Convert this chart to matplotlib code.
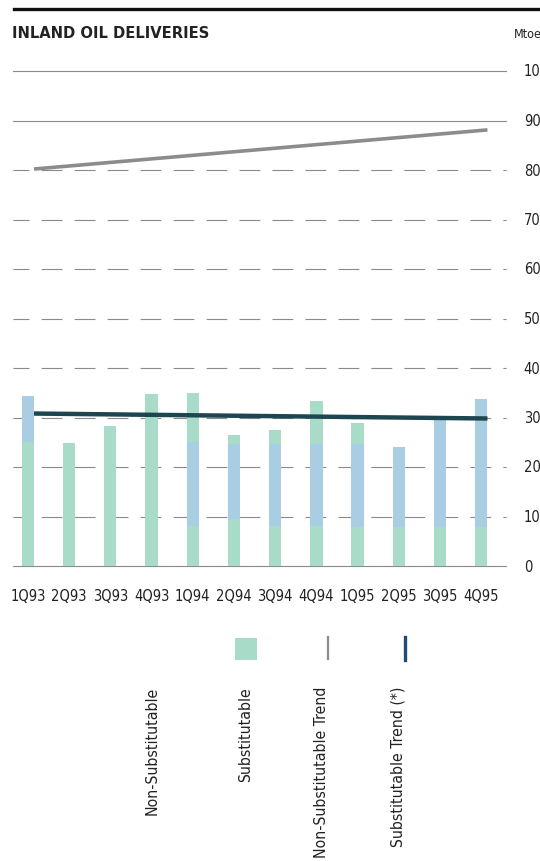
import matplotlib
matplotlib.use("Agg")
import matplotlib.pyplot as plt
from matplotlib.patches import Rectangle
from matplotlib.lines import Line2D
from matplotlib import font_manager
import numpy as np

# ---------------- data ----------------
quarters = ['1Q93', '2Q93', '3Q93', '4Q93', '1Q94', '2Q94',
            '3Q94', '4Q94', '1Q95', '2Q95', '3Q95', '4Q95']
green_low = [25.0, 24.8, 28.2, 34.7, 8.1, 9.5, 8.1, 8.1, 7.9, 7.8, 7.8, 7.8]
blue_mid = [9.3, 0.0, 0.0, 0.0, 16.9, 15.1, 16.5, 16.5, 16.7, 16.2, 21.6, 25.9]
green_top = [0.0, 0.0, 0.0, 0.0, 9.9, 1.9, 2.9, 8.8, 4.2, 0.0, 0.0, 0.0]
nonsub_trend = [80.2, 88.1]   # start / end value
sub_trend = [30.8, 29.8]      # start / end value
y_ticks = [0, 10, 20, 30, 40, 50, 60, 70, 80, 90, 100]
legend_labels = ['Non-Substitutable', 'Substitutable',
                 'Non-Substitutable Trend', 'Substitutable Trend (*)']
title = 'INLAND OIL DELIVERIES'
unit = 'Mtoe'

# ---------------- style ----------------
GREEN = '#a9dcc8'
BLUE = '#a9cee3'
GRAY_TREND = '#8c8c8c'
DARK_TREND = '#1d4650'
GRID = '#8a8a8a'

# find a condensed face if one exists
cond_path = None
for f in font_manager.findSystemFonts():
    base = f.split('/')[-1].lower()
    if base in ('dejavusanscondensed.ttf', 'liberationsansnarrow-regular.ttf'):
        cond_path = f
        break
if cond_path:
    font_manager.fontManager.addfont(cond_path)
    cond_name = font_manager.FontProperties(fname=cond_path).get_name()
    NARROW = dict(family=cond_name, stretch='condensed')
    SCALE = 1.0
else:
    NARROW = dict(family='DejaVu Sans')
    SCALE = 0.85

W, H = 540, 862
fig = plt.figure(figsize=(W / 100, H / 100), dpi=100)
fig.patch.set_facecolor('white')

# axes pixel box: x 13..506, y(0)=567, y(100)=72
left, right = 13, 506
y0, y100 = 567, 72
ax = fig.add_axes([left / W, (H - y0) / H, (right - left) / W, (y0 - y100) / H])
ax.set_facecolor('none')

n = len(quarters)
x = np.arange(n)
bw = 0.30
ax.set_xlim(-0.36, 11.6)
ax.set_ylim(0, 100)

# gridlines
spacing_px = (right - left) / (11.6 + 0.36)
pt = 0.72
on = 26 * pt
off = spacing_px * pt - on
for v in y_ticks:
    if v in (0, 90, 100):
        ax.axhline(v, color=GRID, lw=0.8, zorder=1, clip_on=False)
    else:
        ax.axhline(v, color=GRID, lw=0.8, zorder=1,
                   linestyle=(6 * pt, (on, off)), clip_on=False)

# bars
g1 = np.array(green_low)
b1 = np.array(blue_mid)
g2 = np.array(green_top)
ax.bar(x, g1, width=bw, color=GREEN, zorder=2, linewidth=0)
ax.bar(x, b1, width=bw, bottom=g1, color=BLUE, zorder=2, linewidth=0)
ax.bar(x, g2, width=bw, bottom=g1 + b1, color=GREEN, zorder=2, linewidth=0)

# trend lines
tx = [x[0] + bw / 2, x[-1] + bw / 2]
ax.plot(tx, nonsub_trend, color=GRAY_TREND, lw=2.6, zorder=3, solid_capstyle='butt')
ax.plot(tx, sub_trend, color=DARK_TREND, lw=3.2, zorder=3, solid_capstyle='butt')

# axes cosmetics
for s in ax.spines.values():
    s.set_visible(False)
ax.set_xticks(x)
ax.set_xticklabels(quarters, fontsize=10.5 * SCALE, color='#222222', **NARROW)
ax.tick_params(axis='x', length=0, pad=16)
ax.set_yticks([])

# right-hand value labels
for v in y_ticks:
    ax.text(1.036, v, str(v), transform=ax.get_yaxis_transform(),
            ha='left', va='center', fontsize=10.5 * SCALE,
            color='#222222', clip_on=False, **NARROW)

# top rule, title, unit
fig.add_artist(Line2D([14 / W, 1.0], [(H - 10) / H] * 2, color='#111111', lw=2.4))
fig.text(12 / W, (H - 34) / H, title, ha='left', va='center',
         fontsize=10.6, fontweight='bold', color='#222222', family='DejaVu Sans')
fig.text(514 / W, (H - 34) / H, unit, ha='left', va='center',
         fontsize=9 * SCALE, color='#222222', **NARROW)

# legend
fig.add_artist(Rectangle((235 / W, (H - 661) / H), 22 / W, 22 / H,
                         transform=fig.transFigure, color=GREEN, lw=0))
fig.add_artist(Line2D([328 / W] * 2, [(H - 638) / H, (H - 660) / H],
                      color=GRAY_TREND, lw=1.6))
fig.add_artist(Line2D([405 / W] * 2, [(H - 638) / H, (H - 661) / H],
                      color='#1f4c74', lw=2.4))
label_x = [152, 246, 322, 398]
for lx, lab in zip(label_x, legend_labels):
    fig.text(lx / W, (H - 687) / H, lab, rotation=90, ha='center', va='top',
             fontsize=11.3 * SCALE, color='#222222', **NARROW)

fig.savefig('out.png', dpi=100, facecolor='white')
